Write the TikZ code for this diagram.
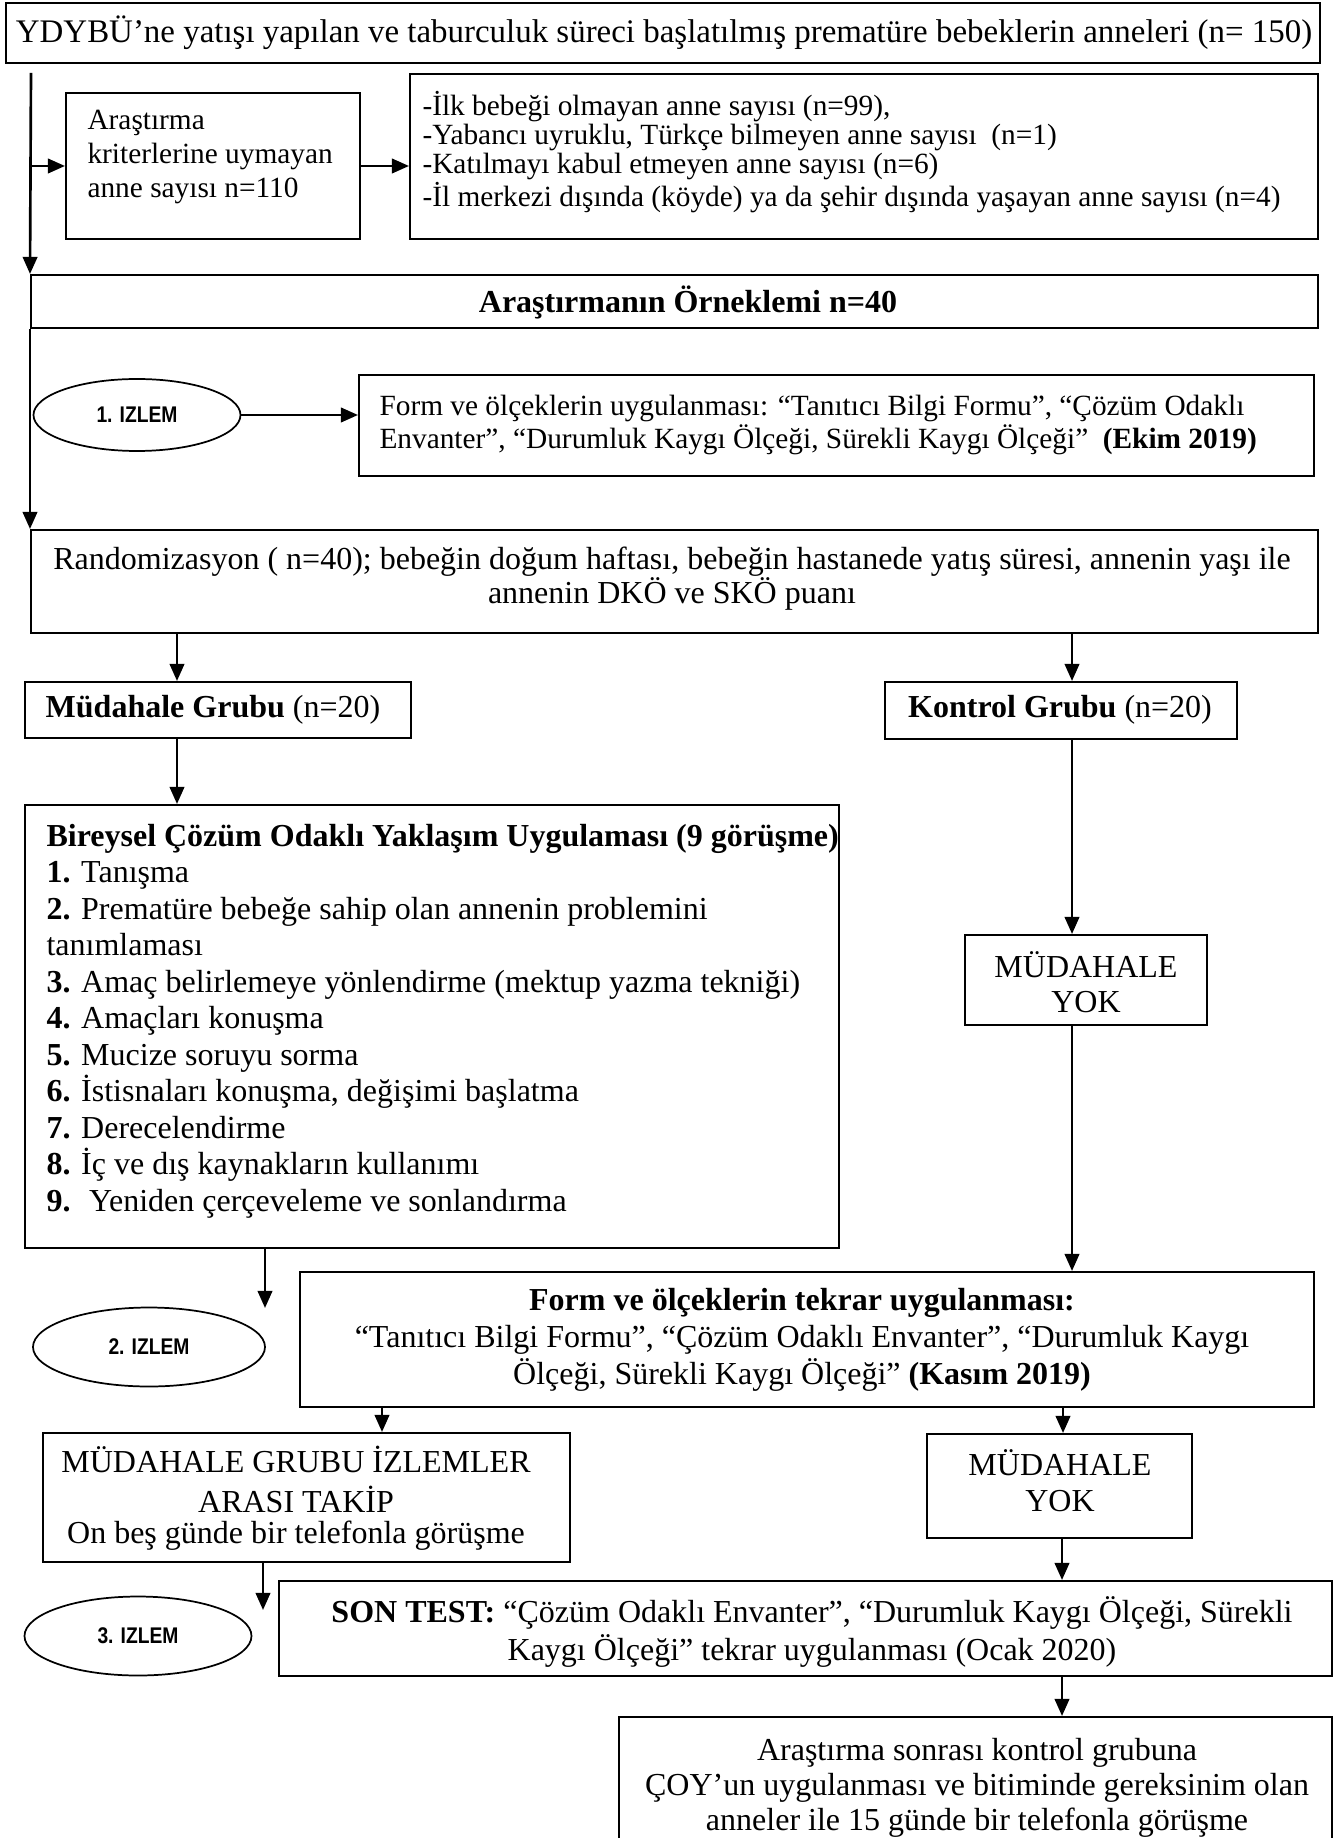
\documentclass[tikz,border=0pt]{standalone}
\usepackage{fontspec}
\usepackage{graphicx}
\setmainfont{Liberation Serif}
\newfontfamily\elfont{Liberation Sans}
\usetikzlibrary{arrows.meta,fit,shapes.geometric}
\begin{document}
\begin{tikzpicture}[x=0.375pt,y=-0.375pt,
  box/.style={draw, line width=0.75pt, inner sep=0pt},
  ell/.style={draw, ellipse, line width=0.65pt, inner sep=0pt, font=\elfont\bfseries\fontsize{8.5}{10}\selectfont},
  arr/.style={line width=1pt, -{Triangle[length=6.4pt,width=5.4pt]}},
  txt/.style={inner sep=0pt, font=\fontsize{12}{13.8}\selectfont},
]
\useasboundingbox (0,0) rectangle (1343,1838);

% top
\node[box, fit={(6,3) (1320,63)}] (top) {};
\node[txt, font=\fontsize{12.35}{14}\selectfont] (ttop) at (664,33) {YDYBÜ’ne yatışı yapılan ve taburculuk süreci başlatılmış prematüre bebeklerin anneleri (n= 150)};

% exclusion
\node[box, fit={(66,93) (360,239)}] (krit) {};
\node[txt, anchor=west, align=left, font=\fontsize{11}{12.75}\selectfont] (tkrit) at (87,157) {Araştırma\\kriterlerine uymayan\\anne sayısı n=110};
\node[box, fit={(410,74) (1318,239)}] (list) {};
\node[txt, anchor=west, align=left, font=\fontsize{11}{10.8}\selectfont] (tlist) at (422,152) {-İlk bebeği olmayan anne sayısı (n=99),\\-Yabancı uyruklu, Türkçe bilmeyen anne sayısı~ (n=1)\\-Katılmayı kabul etmeyen anne sayısı (n=6)\\-İl merkezi dışında (köyde) ya da şehir dışında yaşayan anne sayısı (n=4)};

% sample
\node[box, fit={(31,275) (1318,328)}] (orn) {};
\node[txt] (torn) at (688,302) {\textbf{Araştırmanın Örneklemi n=40}};

\coordinate (vstart) at (31,73);
\coordinate (vbranch) at (31,166);
\draw[arr] (vstart) -- (orn.north west);
\draw[arr] (vbranch) -- (krit.west);
\draw[arr] (krit.east) -- (krit.east -| list.west);

% 1. izlem
\node[ell, minimum width=207*0.375pt, minimum height=72*0.375pt] (iz1) at (137,415) {\scalebox{0.85}[1]{1. IZLEM}};
\node[box, fit={(359,375) (1314,476)}] (form1) {};
\node[txt, anchor=west, align=left, font=\fontsize{11}{10.5}\selectfont] (tform1) at (379,425) {Form ve ölçeklerin uygulanması: “Tanıtıcı Bilgi Formu”, “Çözüm Odaklı\\Envanter”, “Durumluk Kaygı Ölçeği, Sürekli Kaygı Ölçeği”~ \textbf{(Ekim 2019)}};
\draw[arr] (iz1.east) -- (iz1.east -| form1.west);

% randomization
\node[box, fit={(31,530) (1318,633)}] (rand) {};
\node[txt, align=center, font=\fontsize{12}{12.75}\selectfont] (trand) at (672,579) {Randomizasyon ( n=40); bebeğin doğum haftası, bebeğin hastanede yatış süresi, annenin yaşı ile\\annenin DKÖ ve SKÖ puanı};
\draw[arr] (orn.south west) -- (rand.north west);

% groups
\node[box, fit={(25,682) (411,738)}] (mg) {};
\node[txt] (tmg) at (213,710) {\textbf{Müdahale Grubu} (n=20)};
\node[box, fit={(885,682) (1237,739)}] (kg) {};
\node[txt] (tkg) at (1060,710) {\textbf{Kontrol Grubu} (n=20)};
\coordinate (r1) at (177,633);
\draw[arr] (r1) -- (r1 |- mg.north);
\coordinate (r2) at (1072,633);
\draw[arr] (r2) -- (r2 |- kg.north);

% intervention
\node[box, fit={(25,805) (839,1248)}] (bir) {};
\node[txt, anchor=west, align=left, font=\fontsize{12}{13.7}\selectfont] (tbir) at (46,1021) {\textbf{Bireysel Çözüm Odaklı Yaklaşım Uygulaması (9 görüşme)}\\
\textbf{1.} Tanışma\\
\textbf{2.} Prematüre bebeğe sahip olan annenin problemini\\
tanımlaması\\
\textbf{3.} Amaç belirlemeye yönlendirme (mektup yazma tekniği)\\
\textbf{4.} Amaçları konuşma\\
\textbf{5.} Mucize soruyu sorma\\
\textbf{6.} İstisnaları konuşma, değişimi başlatma\\
\textbf{7.} Derecelendirme\\
\textbf{8.} İç ve dış kaynakların kullanımı\\
\textbf{9.}~ Yeniden çerçeveleme ve sonlandırma};
\coordinate (m1) at (177,738);
\draw[arr] (m1) -- (m1 |- bir.north);

% control no intervention
\node[box, fit={(965,935) (1207,1025)}] (mdy1) {};
\node[txt, align=center, font=\fontsize{12}{13.1}\selectfont] (tmdy1) at (1086,982) {MÜDAHALE\\YOK};
\coordinate (k1) at (1072,739);
\draw[arr] (k1) -- (k1 |- mdy1.north);

% second measurement
\node[box, fit={(300,1272) (1314,1407)}] (form2) {};
\node[txt, align=center, font=\fontsize{12}{14}\selectfont] (tform2) at (802,1340) {\textbf{Form ve ölçeklerin tekrar uygulanması:}\\“Tanıtıcı Bilgi Formu”, “Çözüm Odaklı Envanter”, “Durumluk Kaygı\\Ölçeği, Sürekli Kaygı Ölçeği” \textbf{(Kasım 2019)}};
\coordinate (k2) at (1072,1025);
\draw[arr] (k2) -- (k2 |- form2.north);

\coordinate (b1) at (265,1248);
\coordinate (b1end) at (265,1308);
\draw[arr] (b1) -- (b1end);
\node[ell, minimum width=232*0.375pt, minimum height=79*0.375pt] (iz2) at (149,1347) {\scalebox{0.85}[1]{2. IZLEM}};

% follow-up
\node[box, fit={(43,1433) (570,1562)}] (mgi) {};
\node[txt, align=center, font=\fontsize{12}{11.8}\selectfont] (tmgi) at (296,1498) {MÜDAHALE GRUBU İZLEMLER\\[3.2pt]ARASI TAKİP\\On beş günde bir telefonla görüşme};
\coordinate (f1) at (382,1407);
\draw[arr] (f1) -- (f1 |- mgi.north);

\node[box, fit={(927,1434) (1192,1538)}] (mdy2) {};
\node[txt, align=center, font=\fontsize{12}{13.5}\selectfont] (tmdy2) at (1060,1481) {MÜDAHALE\\YOK};
\coordinate (f2) at (1063,1407);
\draw[arr] (f2) -- (f2 |- mdy2.north);

\coordinate (g1) at (263,1562);
\coordinate (g1end) at (263,1610);
\draw[arr] (g1) -- (g1end);
\node[ell, minimum width=227*0.375pt, minimum height=79*0.375pt] (iz3) at (138,1636) {\scalebox{0.85}[1]{3. IZLEM}};

% post test
\node[box, fit={(279,1581) (1332,1676)}] (son) {};
\node[txt, align=center, font=\fontsize{12}{14.25}\selectfont] (tson) at (812,1632) {\textbf{SON TEST:} “Çözüm Odaklı Envanter”, “Durumluk Kaygı Ölçeği, Sürekli\\Kaygı Ölçeği” tekrar uygulanması (Ocak 2020)};
\coordinate (d2) at (1062,1538);
\draw[arr] (d2) -- (d2 |- son.north);

\node[box, fit={(619,1717) (1332,1900)}] (last) {};
\node[txt, align=center, font=\fontsize{12}{13.1}\selectfont] (tlast) at (977,1788) {Araştırma sonrası kontrol grubuna\\ÇOY’un uygulanması ve bitiminde gereksinim olan\\anneler ile 15 günde bir telefonla görüşme};
\coordinate (s1) at (1062,1676);
\draw[arr] (s1) -- (s1 |- last.north);
\end{tikzpicture}
\end{document}
